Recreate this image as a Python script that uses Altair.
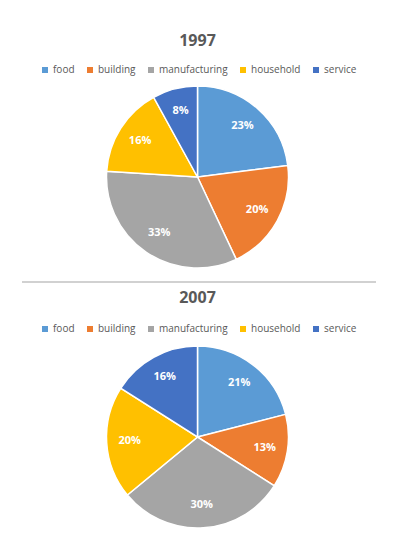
import altair as alt
import pandas as pd

categories = ["food", "building", "manufacturing", "household", "service"]
share_1997 = [23, 20, 33, 16, 8]
share_2007 = [21, 13, 30, 20, 16]
colors = ["#5B9BD5", "#ED7D31", "#A5A5A5", "#FFC000", "#4472C4"]

FONT = "Open Sans"
GREY = "#595959"
NOVIEW = alt.ViewBackground(strokeWidth=0, stroke="transparent")


def pie(year, values, with_rule, legend_y, title_offset):
    df = pd.DataFrame({
        "category": categories,
        "share": values,
        "order": list(range(len(categories))),
        "label": [f"{v}%" for v in values],
    })
    base = alt.Chart(df).encode(
        theta=alt.Theta("share:Q", stack=True),
        order=alt.Order("order:Q"),
    )
    arc = base.mark_arc(outerRadius=91, stroke="white", strokeWidth=1.5).encode(
        color=alt.Color(
            "category:N",
            scale=alt.Scale(domain=categories, range=colors),
            legend=alt.Legend(
                orient="none", legendX=32, legendY=legend_y, direction="horizontal",
                title=None, symbolType="square", symbolSize=36, symbolStrokeWidth=0,
                labelFont=FONT, labelFontSize=10, labelColor=GREY,
                columnPadding=10, symbolOffset=0, labelOffset=3, padding=0,
            ),
        )
    ).properties(view=NOVIEW)
    text = base.mark_text(radius=68, font=FONT, fontSize=11, fontWeight="bold", color="white").encode(
        text="label:N"
    ).properties(view=NOVIEW)
    layers = [arc, text]
    if with_rule:
        rule = alt.Chart(df).mark_rule(color="#d0d0d0", strokeWidth=1.5).encode(
            x=alt.value(14), x2=alt.value(368), y=alt.value(200)
        ).properties(view=NOVIEW)
        layers.append(rule)
    return alt.layer(*layers).properties(
        width=379, height=190, view=NOVIEW,
        title=alt.TitleParams(year, font=FONT, fontSize=16, fontWeight="bold", color=GREY, offset=title_offset),
    )


chart = alt.vconcat(
    pie("1997", share_1997, True, -17, 16),
    pie("2007", share_2007, False, -18, 18),
    spacing=7,
).resolve_scale(color="independent").properties(
    padding={"left": 0, "top": 25, "right": 0, "bottom": 0}
).configure_view(strokeWidth=0, stroke="transparent").configure(background="white")

chart.save("out.html", embed_options={"renderer": "svg", "actions": False})
